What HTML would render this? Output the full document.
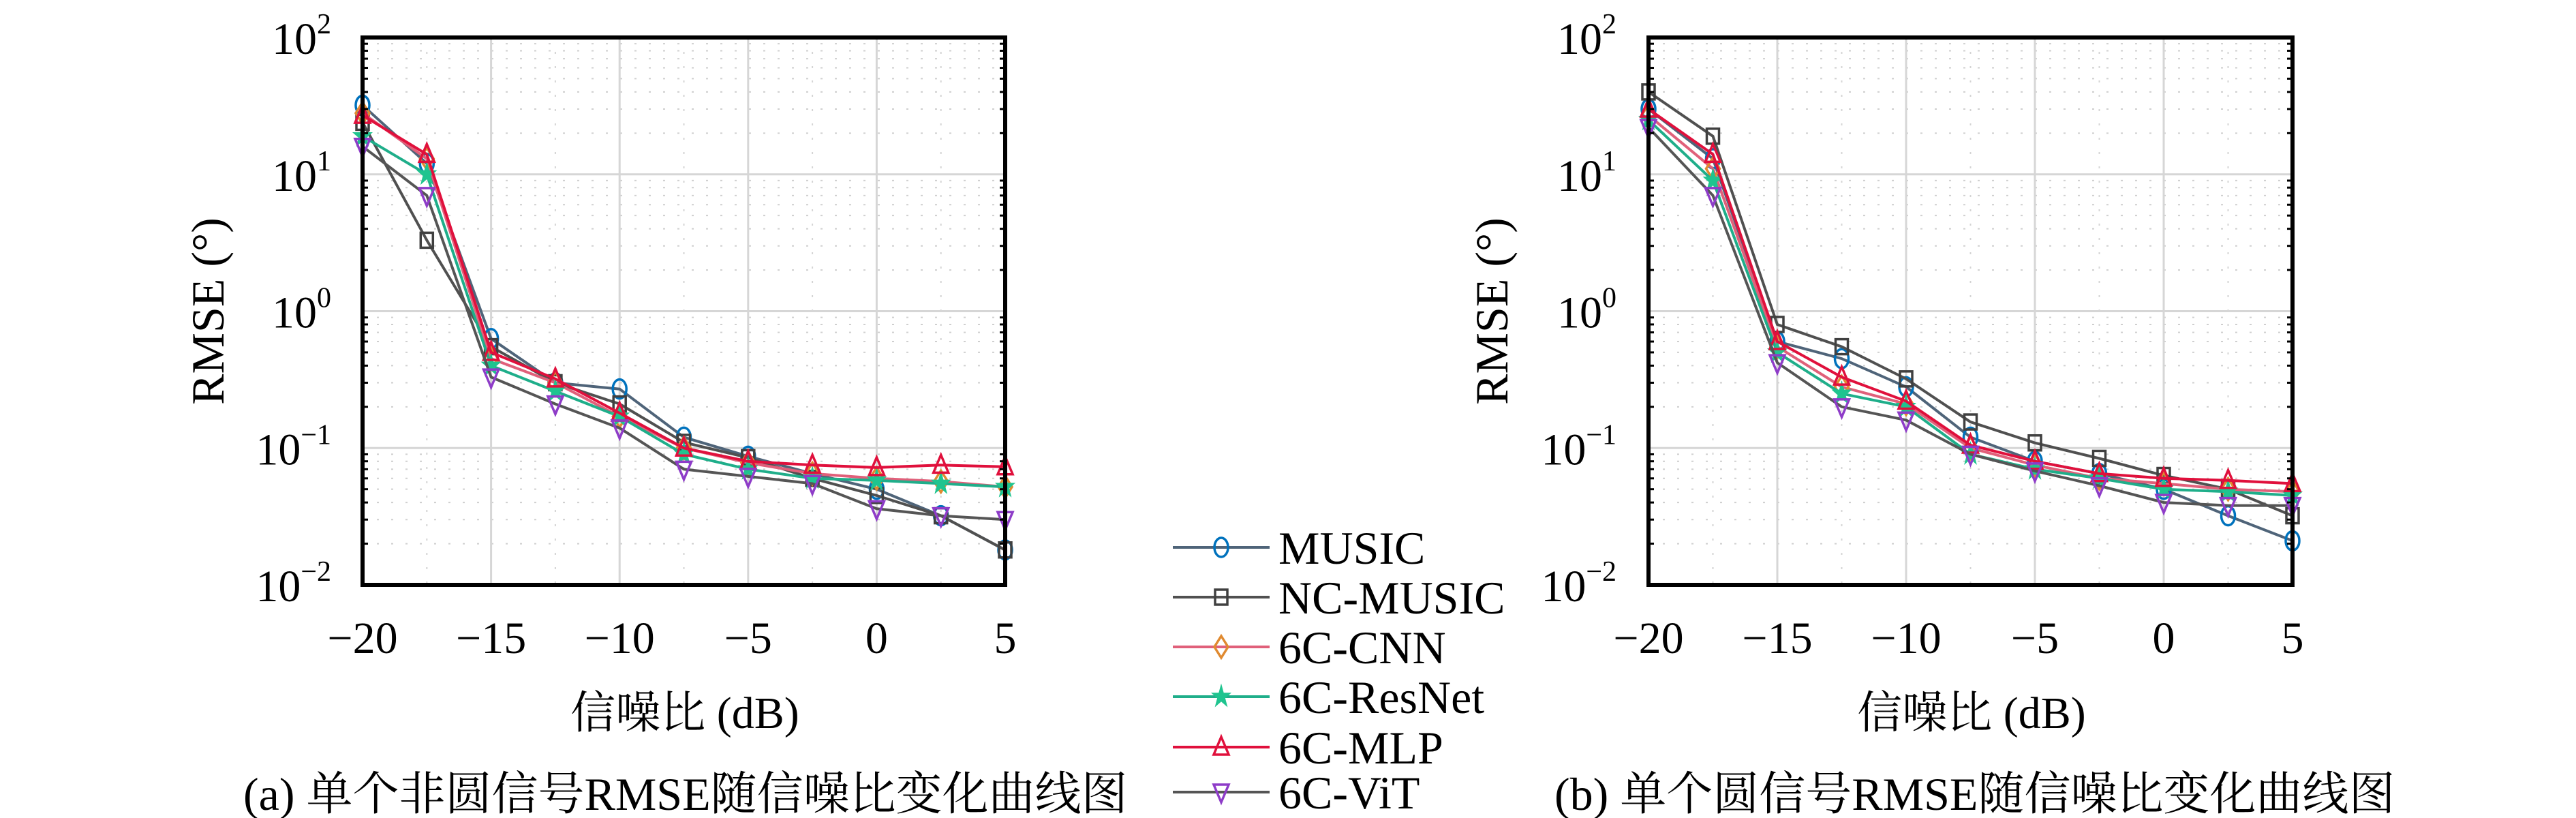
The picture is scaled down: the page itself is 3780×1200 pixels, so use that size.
<!DOCTYPE html>
<html><head><meta charset="utf-8">
<style>
html,body{margin:0;padding:0;background:#fff;}
svg{display:block;}
text{font-family:"Liberation Serif","Noto Serif CJK SC",serif;fill:#000;}
</style></head>
<body>
<svg id="fig" width="3780" height="1200" viewBox="0 0 3780 1200" xmlns="http://www.w3.org/2000/svg" font-family="'Liberation Serif','Noto Serif CJK SC',serif"></svg>
<script>
const snr = [-20,-17.5,-15,-12.5,-10,-7.5,-5,-2.5,0,2.5,5];
const xTicks = [-20,-15,-10,-5,0,5];
const yDecades = [-2,-1,0,1,2];
const seriesNames = ["MUSIC","NC-MUSIC","6C-CNN","6C-ResNet","6C-MLP","6C-ViT"];
// panel (a)
const aMusic  = [32,12,0.63,0.30,0.27,0.12,0.087,0.065,0.050,0.032,0.018];
const aNc     = [24,3.3,0.55,0.30,0.21,0.11,0.085,0.060,0.045,0.032,0.018];
const aCnn    = [28,13,0.45,0.30,0.17,0.10,0.078,0.065,0.060,0.057,0.052];
const aResNet = [19,10,0.40,0.26,0.17,0.09,0.070,0.060,0.058,0.055,0.052];
const aMlp    = [27,14,0.50,0.32,0.18,0.10,0.080,0.075,0.072,0.075,0.073];
const aVit    = [16,7,0.33,0.21,0.14,0.07,0.062,0.055,0.036,0.032,0.030];
// panel (b)
const bMusic  = [30,13,0.60,0.45,0.28,0.12,0.080,0.065,0.050,0.032,0.021];
const bNc     = [40,19,0.80,0.55,0.32,0.155,0.109,0.084,0.063,0.050,0.032];
const bCnn    = [27,11,0.55,0.28,0.21,0.10,0.075,0.060,0.055,0.050,0.048];
const bResNet = [25,9,0.50,0.25,0.20,0.09,0.070,0.060,0.050,0.048,0.045];
const bMlp    = [30,14,0.60,0.33,0.22,0.105,0.080,0.065,0.060,0.058,0.055];
const bVit    = [22,7,0.42,0.20,0.16,0.09,0.068,0.053,0.040,0.038,0.038];

const NS="http://www.w3.org/2000/svg";
const svg=document.getElementById('fig');
const FONT="'Liberation Serif','Noto Serif CJK SC',serif";
function mk(tag,attrs,parent){const e=document.createElementNS(NS,tag);for(const k in attrs)e.setAttribute(k,attrs[k]);if(tag==='text')e.setAttribute('font-family',FONT);(parent||svg).appendChild(e);return e;}

const styles=[
 {line:"#4f6479",mk:"#0072BD",shape:"circle"},
 {line:"#505050",mk:"#404040",shape:"square"},
 {line:"#e0607a",mk:"#e08a30",shape:"diamond"},
 {line:"#1fae8a",mk:"#1fc48f",shape:"star"},
 {line:"#e0103c",mk:"#e0103c",shape:"tri"},
 {line:"#555555",mk:"#8e3cc8",shape:"vtri"}
];

function marker(g,shape,x,y,c){
  const s=13;let e;
  if(shape==="circle"){e=mk('ellipse',{cx:x,cy:y,rx:10,ry:14,fill:'none',stroke:c,'stroke-width':3.5},g);}
  else if(shape==="square"){e=mk('rect',{x:x-9,y:y-11,width:18,height:22,fill:'none',stroke:c,'stroke-width':3.5},g);}
  else if(shape==="diamond"){e=mk('polygon',{points:`${x},${y-s-3} ${x+10},${y} ${x},${y+s+3} ${x-10},${y}`,fill:'none',stroke:c,'stroke-width':3.5},g);}
  else if(shape==="star"){let p=[];for(let i=0;i<10;i++){const r=i%2?5:13;const a=-Math.PI/2+i*Math.PI/5;p.push((x+r*Math.cos(a)).toFixed(1)+','+(y+r*1.2*Math.sin(a)).toFixed(1));}e=mk('polygon',{points:p.join(' '),fill:c,stroke:c,'stroke-width':2},g);}
  else if(shape==="tri"){e=mk('polygon',{points:`${x},${y-15} ${x+11},${y+11} ${x-11},${y+11}`,fill:'none',stroke:c,'stroke-width':3.5},g);}
  else {e=mk('polygon',{points:`${x},${y+15} ${x+11},${y-11} ${x-11},${y-11}`,fill:'none',stroke:c,'stroke-width':3.5},g);}
  
  
}

function panel(id,x0,x1,y0,y1,data,labelEnd,titleX,xTitleX,caption,capX){
  const g=mk('g',{});
  
  
  const xs=v=>x0+(v-(-20))/25*(x1-x0);
  const ys=v=>y1-(Math.log10(v)+2)/4*(y1-y0);
  // minor grid
  for(let d=-2;d<2;d++)for(let m=2;m<10;m++){const yy=ys(m*Math.pow(10,d));mk('line',{x1:x0,x2:x1,y1:yy,y2:yy,stroke:'#cfcfcf','stroke-width':2,'stroke-dasharray':'3 18'},g);}
  for(let v=-17.5;v<5;v+=5){const xx=xs(v);mk('line',{x1:xx,x2:xx,y1:y0,y2:y1,stroke:'#d4d4d4','stroke-width':2,'stroke-dasharray':'3 18'},g);}
  // major grid
  xTicks.forEach(v=>{const xx=xs(v);const l=mk('line',{x1:xx,x2:xx,y1:y0,y2:y1,stroke:'#d6d6d6','stroke-width':3},g);});
  yDecades.forEach(d=>{const yy=ys(Math.pow(10,d));const l=mk('line',{x1:x0,x2:x1,y1:yy,y2:yy,stroke:'#d6d6d6','stroke-width':3},g);});
  // series
  data.forEach((arr,i)=>{
    const st=styles[i];
    const pts=arr.map((v,j)=>xs(snr[j]).toFixed(1)+','+ys(v).toFixed(1)).join(' ');
    const pl=mk('polyline',{points:pts,fill:'none',stroke:st.line,'stroke-width':4},g);
    
    
    arr.forEach((v,j)=>marker(g,st.shape,xs(snr[j]),ys(v),st.mk));
  });
  // axes box
  const box=mk('rect',{x:x0,y:y0,width:x1-x0,height:y1-y0,fill:'none',stroke:'#000','stroke-width':6},g);
  
  for(let d=-2;d<2;d++)for(let m=2;m<10;m++){const yy=ys(m*Math.pow(10,d));mk('line',{x1:x0,x2:x0+8,y1:yy,y2:yy,stroke:'#000','stroke-width':3},g);mk('line',{x1:x1,x2:x1-8,y1:yy,y2:yy,stroke:'#000','stroke-width':3},g);}
  xTicks.forEach(v=>{const t=mk('text',{x:xs(v),y:y1+100,'font-size':66,'text-anchor':'middle'},g);t.textContent=(v<0?'\u2212'+(-v):String(v));});
  yDecades.forEach(d=>{const t=mk('text',{x:labelEnd,y:ys(Math.pow(10,d))+24,'font-size':66,'text-anchor':'end'},g);
    const a=mk('tspan',{},t);a.textContent='10';
    const b=mk('tspan',{dy:-30,'font-size':42},t);b.textContent=(d<0?'\u2212'+(-d):String(d));
    });
  const yt=mk('text',{x:0,y:0,'font-size':68,'text-anchor':'middle',transform:`translate(${titleX},${(y0+y1)/2}) rotate(-90)`},g);
  yt.textContent='RMSE (°)';
  const xt=mk('text',{x:xTitleX,y:1068,'font-size':66,'text-anchor':'middle'},g);
  xt.textContent='信噪比 (dB)';
  const cp=mk('text',{x:capX,y:1188,'font-size':68,'text-anchor':'start'},g);
  cp.textContent=caption;
}

panel('a',532,1475,55,858,[aMusic,aNc,aCnn,aResNet,aMlp,aVit],486,328,1005,'(a) 单个非圆信号RMSE随信噪比变化曲线图',357);
panel('b',2419,3364,55,858,[bMusic,bNc,bCnn,bResNet,bMlp,bVit],2372,2212,2893,'(b) 单个圆信号RMSE随信噪比变化曲线图',2281);

const lg=mk('g',{});


const rowsY=[803,876,949,1022,1096,1162];
seriesNames.forEach((n,i)=>{
  const st=styles[i];const y=rowsY[i];
  const e=mk('g',{},lg);
  
  
  mk('line',{x1:1721,x2:1863,y1:y,y2:y,stroke:st.line,'stroke-width':4},e);
  marker(e,st.shape,1792,y,st.mk);
  const t=mk('text',{x:1876,y:y+24,'font-size':68},e);t.textContent=n;
});
</script>
</body></html>
